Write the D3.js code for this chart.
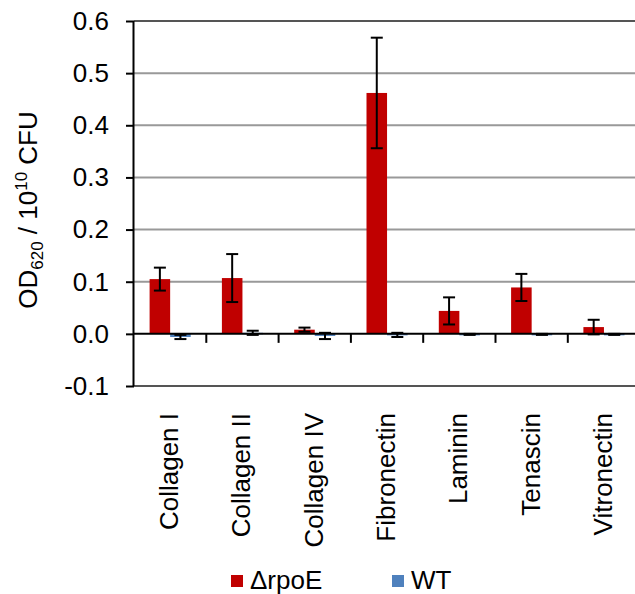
<!DOCTYPE html>
<html>
<head>
<meta charset="utf-8">
<script src="https://cdn.jsdelivr.net/npm/d3@7"></script>
<style>
  html, body { margin: 0; padding: 0; background: #fff; overflow: hidden; }
  text { font-family: "Liberation Sans", Arial, sans-serif; fill: #000; }
</style>
</head>
<body>
<svg id="chart" width="635" height="594"></svg>
<script>
const categories = ["Collagen I", "Collagen II", "Collagen IV", "Fibronectin", "Laminin", "Tenascin", "Vitronectin"];
const seriesNames = ["\u0394rpoE", "WT"];
const rpoEValues = [0.105, 0.107, 0.008, 0.462, 0.044, 0.089, 0.013];
const rpoEErrors = [0.022, 0.046, 0.004, 0.106, 0.026, 0.026, 0.014];
const wtValues = [-0.006, 0.002, -0.004, -0.002, -0.001, -0.001, -0.001];
const wtErrors = [0.004, 0.004, 0.006, 0.004, 0.001, 0.001, 0.001];
const yTicks = [-0.1, 0.0, 0.1, 0.2, 0.3, 0.4, 0.5, 0.6];
const colors = ["#C00000", "#4F81BD"];

const svg = d3.select("#chart");
const plotLeft = 134, catWidth = 72.3;
const x = d3.scaleBand().domain(categories).range([plotLeft, plotLeft + catWidth * categories.length]).padding(0);
const xs = d3.scaleBand().domain(seriesNames).range([15.6, catWidth - 15.6]).padding(0);
const y = d3.scaleLinear().domain([-0.1, 0.6]).range([386, 21]);
const xRight = 640;

// gridlines
svg.append("g").selectAll("line").data(yTicks.filter(t => t !== 0)).join("line")
  .attr("x1", plotLeft).attr("x2", xRight)
  .attr("y1", d => y(d)).attr("y2", d => y(d))
  .attr("stroke", d => (d === 0.6 || d === -0.1) ? "#555" : "#999")
  .attr("stroke-width", 2);

// y axis
const yAxis = svg.append("g").attr("transform", `translate(${plotLeft},0)`)
  .call(d3.axisLeft(y).tickValues(yTicks).tickSize(8).tickPadding(17).tickFormat(d => d.toFixed(1)));
yAxis.select(".domain").attr("stroke", "#000").attr("stroke-width", 2).attr("d", `M-0.5,${y(0.6)}V${y(-0.1)}`);
yAxis.selectAll(".tick line").attr("stroke", "#000").attr("stroke-width", 2);
yAxis.selectAll(".tick text").attr("font-size", 26).style("font-family", "'Liberation Sans', Arial, sans-serif");

// bars
const data = categories.map((c, i) => [
  {cat: c, s: seriesNames[0], v: rpoEValues[i], e: rpoEErrors[i], col: colors[0]},
  {cat: c, s: seriesNames[1], v: wtValues[i], e: wtErrors[i], col: colors[1]}
]).flat();

svg.append("g").selectAll("rect").data(data).join("rect")
  .attr("x", d => x(d.cat) + xs(d.s))
  .attr("width", xs.bandwidth())
  .attr("y", d => Math.min(y(d.v), y(0)))
  .attr("height", d => Math.max(Math.abs(y(d.v) - y(0)), 1.5))
  .attr("fill", d => d.col);

// x axis line at 0
svg.append("line").attr("x1", plotLeft - 1).attr("x2", xRight)
  .attr("y1", y(0)).attr("y2", y(0)).attr("stroke", "#000").attr("stroke-width", 2);
// category boundary ticks
svg.append("g").selectAll("line").data(categories.slice(1)).join("line")
  .attr("x1", d => x(d)).attr("x2", d => x(d))
  .attr("y1", y(0)).attr("y2", y(0) + 9)
  .attr("stroke", "#000").attr("stroke-width", 2);

// error bars
const eb = svg.append("g").selectAll("g").data(data).join("g")
  .attr("stroke", "#000").attr("stroke-width", 2);
const cx = d => x(d.cat) + xs(d.s) + xs.bandwidth() / 2;
const capW = 12;
eb.append("line").attr("x1", cx).attr("x2", cx).attr("y1", d => y(d.v + d.e)).attr("y2", d => y(d.v - d.e));
eb.append("line").attr("x1", d => cx(d) - capW / 2).attr("x2", d => cx(d) + capW / 2)
  .attr("y1", d => y(d.v + d.e)).attr("y2", d => y(d.v + d.e));
eb.append("line").attr("x1", d => cx(d) - capW / 2).attr("x2", d => cx(d) + capW / 2)
  .attr("y1", d => y(d.v - d.e)).attr("y2", d => y(d.v - d.e));

// category labels
svg.append("g").selectAll("text").data(categories).join("text")
  .attr("transform", d => `translate(${x(d) + x.bandwidth() / 2 + 8},413) rotate(-90)`)
  .attr("text-anchor", "end")
  .attr("font-size", 26)
  .text(d => d);

// y title
const yt = svg.append("text")
  .attr("transform", `translate(37,210) rotate(-90)`)
  .attr("text-anchor", "middle")
  .attr("font-size", 26);
yt.append("tspan").text("OD");
yt.append("tspan").attr("font-size", 17).attr("dy", 6).text("620");
yt.append("tspan").attr("dy", -6).text(" / 10");
yt.append("tspan").attr("font-size", 17).attr("dy", -10).text("10");
yt.append("tspan").attr("dy", 10).text(" CFU");

// legend
const legX = [231, 392];
const lg = svg.append("g").selectAll("g").data(seriesNames).join("g")
  .attr("transform", (d, i) => `translate(${legX[i]},575)`);
lg.append("rect").attr("width", 12).attr("height", 12).attr("fill", (d, i) => colors[i]);
lg.append("text").attr("x", (d, i) => i === 0 ? 19 : 19).attr("y", 14).attr("font-size", 26).text(d => d);
</script>
</body>
</html>
